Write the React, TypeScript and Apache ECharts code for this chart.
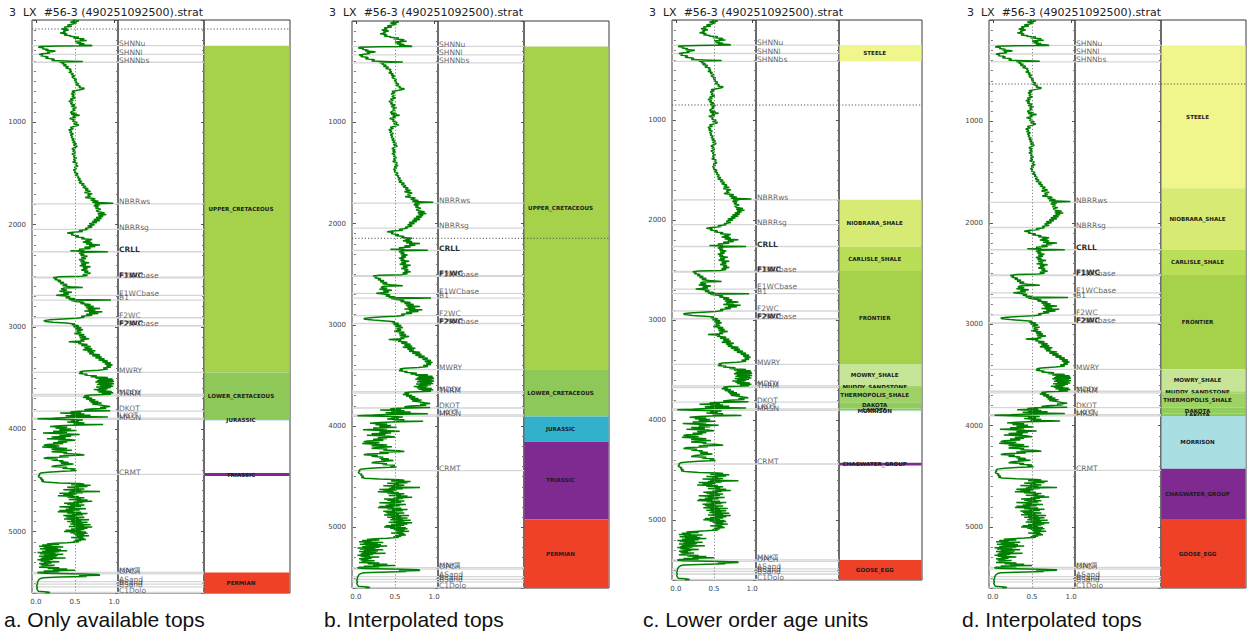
import React, { useEffect, useRef } from "react";
import * as echarts from "echarts";

// ---------------- DATA ----------------
const WELL_TITLE = "3\u00a0\u00a0LX\u00a0\u00a0#56-3 (490251092500).strat";
const CAPTIONS = ["a. Only available tops", "b. Interpolated tops", "c. Lower order age units", "d. Interpolated tops"];
const DEPTH_MIN = 0;
const DEPTH_MAX = 5600;
const DEPTH_STEP = 1000;
const LOG_MIN = -0.05;
const LOG_MAX = 1.05;
const LOG_TICKS = [0, 0.5, 1.0];
const LOG_MIDLINE = 0.5;
const CURSOR_DEPTHS = [88, 2146, 850, 631];

// [name, depth, emphasised]
const TOPS: [string, number, boolean][] = [
  ["SHNNu", 251, false], ["SHNNl", 335, false], ["SHNNbs", 413, false], ["NBRRws", 1798, false],
  ["NBRRsg", 2046, false], ["CRLL", 2265, true], ["F1WC", 2514, true], ["F1WCbase", 2521, false],
  ["E1WCbase", 2691, false], ["B1", 2737, false], ["F2WC", 2910, false], ["F2WC", 2986, true],
  ["F2WCbase", 2988, false], ["MWRY", 3444, false], ["MDDY", 3660, false], ["THRM", 3676, false],
  ["DKOT", 3822, false], ["LKOT", 3890, false], ["MRSN", 3903, false], ["CRMT", 4440, false],
  ["MNKT", 5398, false], ["OPCH", 5414, false], ["ASand", 5488, false], ["BSand", 5514, false],
  ["BSand", 5540, false], ["C1Dolo", 5595, false],
];

const STRAT_A: [string, number, number][] = [
  ["UPPER_CRETACEOUS", 251, 3444], ["LOWER_CRETACEOUS", 3444, 3905], ["JURASSIC", 3905, 3910],
  ["TRIASSIC", 4428, 4456], ["PERMIAN", 5400, 5600],
];
const STRAT_B: [string, number, number][] = [
  ["UPPER_CRETACEOUS", 251, 3440], ["LOWER_CRETACEOUS", 3440, 3905], ["JURASSIC", 3905, 4155],
  ["TRIASSIC", 4155, 4920], ["PERMIAN", 4920, 5600],
];
const STRAT_C: [string, number, number][] = [
  ["STEELE", 251, 413], ["NIOBRARA_SHALE", 1798, 2265], ["CARLISLE_SHALE", 2265, 2510],
  ["FRONTIER", 2510, 3440], ["MOWRY_SHALE", 3440, 3660], ["MUDDY_SANDSTONE", 3660, 3680],
  ["THERMOPOLIS_SHALE", 3680, 3822], ["DAKOTA", 3822, 3885], ["LAKOTA", 3885, 3905],
  ["MORRISON", 3905, 3908], ["CHAGWATER_GROUP", 4428, 4456], ["GOOSE_EGG", 5400, 5600],
];
const STRAT_D: [string, number, number][] = [
  ["STEELE", 251, 1660], ["NIOBRARA_SHALE", 1660, 2265], ["CARLISLE_SHALE", 2265, 2515],
  ["FRONTIER", 2515, 3444], ["MOWRY_SHALE", 3444, 3660], ["MUDDY_SANDSTONE", 3660, 3680],
  ["THERMOPOLIS_SHALE", 3680, 3822], ["DAKOTA", 3822, 3880], ["LAKOTA", 3880, 3905],
  ["MORRISON", 3905, 4425], ["CHAGWATER_GROUP", 4425, 4920], ["GOOSE_EGG", 4920, 5600],
];

const STRAT_COLORS: Record<string, string> = {
  UPPER_CRETACEOUS: "#a6d24b", LOWER_CRETACEOUS: "#8dc858", JURASSIC: "#32b1cc", TRIASSIC: "#7e2a91",
  PERMIAN: "#ee4128", STEELE: "#f0f68c", NIOBRARA_SHALE: "#d6ea74", CARLISLE_SHALE: "#b9df59",
  FRONTIER: "#a6d24b", MOWRY_SHALE: "#c6e596", MUDDY_SANDSTONE: "#a7d56c", THERMOPOLIS_SHALE: "#9fd264",
  DAKOTA: "#92cc5c", LAKOTA: "#8dc858", MORRISON: "#a9dee2", CHAGWATER_GROUP: "#7e2a91", GOOSE_EGG: "#ee4128",
};

// gamma-ray style log, [depth, value]
const LOG_UPPER: [number, number][] = [
  [0,0.47],[10,0.55],[20,0.44],[29,0.52],[40,0.47],[50,0.40],[60,0.46],[70,0.36],[78,0.40],[88,0.33],[98,0.42],[108,0.35],[118,0.38],[127,0.31],[137,0.40],[147,0.36],[155,0.45],[160,0.43],[168,0.55],[176,0.48],[184,0.62],[192,0.56],[200,0.65],[208,0.50],[216,0.58],[225,0.52],[232,0.62],[240,0.55],[246,0.70],[251,0.72],[255,0.30],[260,0.05],[266,0.03],[272,0.10],[280,0.08],[288,0.16],[296,0.12],[303,0.25],[308,0.22],[314,0.14],[322,0.18],[330,0.08],[336,0.04],[342,0.09],[350,0.06],[358,0.14],[365,0.16],[372,0.12],[380,0.22],[388,0.24],[396,0.20],[402,0.45],[406,0.60],[410,0.30],[418,0.36],[426,0.33],[437,0.39],[446,0.35],[456,0.42],[469,0.38],[480,0.45],[490,0.43],[502,0.46],[512,0.42],[524,0.48],[534,0.45],[546,0.50],[556,0.46],[567,0.48],[578,0.52],[589,0.49],[599,0.52],[610,0.50],[622,0.55],[634,0.51],[648,0.57],[660,0.55],[668,0.62],[675,0.61],[684,0.55],[697,0.46],[708,0.50],[720,0.45],[733,0.49],[746,0.46],[760,0.51],[772,0.44],[784,0.48],[795,0.42],[806,0.47],[818,0.44],[830,0.50],[844,0.45],[856,0.52],[868,0.47],[880,0.50],[893,0.46],[904,0.44],[914,0.52],[922,0.45],[932,0.56],[941,0.47],[952,0.51],[963,0.43],[975,0.49],[990,0.47],[1002,0.53],[1014,0.48],[1026,0.55],[1039,0.50],[1050,0.44],[1062,0.48],[1075,0.42],[1088,0.46],[1100,0.43],[1112,0.48],[1125,0.44],[1137,0.47],[1150,0.45],[1162,0.49],[1175,0.46],[1186,0.50],[1198,0.47],[1210,0.52],[1222,0.48],[1235,0.53],[1248,0.49],[1260,0.46],[1272,0.50],[1284,0.47],[1296,0.51],[1310,0.46],[1322,0.50],[1336,0.48],[1349,0.52],[1362,0.48],[1375,0.51],[1388,0.47],[1400,0.53],[1414,0.50],[1428,0.54],[1440,0.49],[1452,0.52],[1466,0.48],[1479,0.51],[1490,0.49],[1503,0.54],[1516,0.50],[1528,0.55],[1540,0.53],[1552,0.57],[1565,0.54],[1577,0.59],[1590,0.55],[1602,0.62],[1614,0.58],[1626,0.64],[1638,0.60],[1650,0.67],[1662,0.63],[1675,0.70],[1686,0.62],[1698,0.72],[1710,0.66],[1723,0.70],[1735,0.63],[1748,0.76],[1760,0.70],[1772,0.80],[1782,0.72],[1790,0.99],[1796,0.75],[1805,0.82],[1815,0.74],[1825,0.80],[1838,0.76],[1850,0.83],[1862,0.77],[1875,0.80],
];
const LOG_MIDDLE: [number, number][] = [
  [1885,0.88],[1893,0.79],[1902,0.90],[1910,0.80],[1920,0.86],[1930,0.77],[1939,0.84],[1950,0.74],[1960,0.82],[1970,0.72],[1980,0.78],[1990,0.68],[2000,0.75],[2012,0.66],[2024,0.72],[2037,0.63],[2048,0.66],[2058,0.55],[2066,0.60],[2074,0.47],[2082,0.40],[2090,0.48],[2100,0.45],[2110,0.55],[2118,0.50],[2128,0.62],[2138,0.58],[2146,0.72],[2151,0.63],[2160,0.70],[2170,0.60],[2180,0.72],[2190,0.64],[2198,0.82],[2205,0.68],[2214,0.76],[2222,0.62],[2232,0.70],[2240,0.55],[2248,0.62],[2255,0.44],[2260,0.60],[2265,0.92],[2270,0.62],[2280,0.55],[2290,0.62],[2300,0.57],[2310,0.66],[2320,0.58],[2330,0.64],[2342,0.55],[2352,0.62],[2362,0.57],[2372,0.68],[2382,0.58],[2392,0.64],[2402,0.56],[2412,0.70],[2422,0.60],[2432,0.66],[2444,0.58],[2455,0.67],[2466,0.62],[2476,0.70],[2486,0.60],[2496,0.66],[2505,0.58],[2510,0.30],[2518,0.22],[2526,0.27],[2536,0.24],[2546,0.32],[2556,0.28],[2566,0.36],[2576,0.31],[2586,0.40],[2596,0.34],[2606,0.44],[2614,0.60],[2620,0.36],[2630,0.32],[2640,0.40],[2650,0.30],[2660,0.46],[2670,0.35],[2680,0.42],[2690,0.26],[2698,0.38],[2706,0.44],[2715,0.38],[2725,0.50],[2732,0.42],[2737,0.96],[2742,0.45],[2750,0.52],[2760,0.62],[2770,0.57],[2780,0.70],[2790,0.62],[2800,0.74],[2810,0.64],[2820,0.82],[2828,0.66],[2836,0.76],[2844,0.62],[2852,0.85],[2860,0.68],[2868,0.80],[2876,0.64],[2886,0.72],[2896,0.58],[2906,0.62],[2915,0.52],[2922,0.35],[2930,0.18],[2938,0.10],[2946,0.12],[2954,0.22],[2962,0.38],[2970,0.50],[2978,0.46],[2988,0.55],[2998,0.48],[3008,0.58],[3018,0.50],[3028,0.60],[3040,0.52],[3052,0.58],[3064,0.49],[3075,0.62],[3086,0.55],[3096,0.64],[3106,0.56],[3116,0.68],[3126,0.57],[3136,0.62],[3145,0.42],[3152,0.58],[3162,0.54],[3172,0.66],[3182,0.58],[3192,0.70],[3202,0.62],[3212,0.72],[3222,0.60],[3232,0.76],[3242,0.66],[3252,0.74],[3262,0.68],[3272,0.82],[3282,0.72],[3292,0.84],[3302,0.76],[3312,0.88],[3322,0.80],[3332,0.92],[3342,0.85],[3352,0.96],[3362,0.88],[3372,0.98],[3382,0.90],[3392,0.96],[3402,0.86],[3412,0.92],[3422,0.80],[3430,0.62],[3438,0.56],[3446,0.60],[3454,0.55],[3462,0.66],[3470,0.62],[3478,0.78],[3486,0.70],[3494,0.92],[3500,0.76],[3508,0.98],[3514,0.80],[3520,0.99],[3526,0.78],[3532,1.0],[3538,0.76],[3544,0.98],[3550,0.80],[3556,1.0],[3562,0.78],[3568,0.97],[3574,0.82],[3580,0.99],[3586,0.77],[3592,0.96],[3598,0.80],[3604,0.92],[3610,0.74],[3616,0.90],[3622,0.78],[3630,0.97],[3636,0.80],[3642,0.99],[3650,0.84],[3658,0.96],[3664,0.70],[3672,0.62],[3680,0.68],[3688,0.60],[3696,0.72],[3704,0.64],[3712,0.76],[3720,0.68],[3728,0.80],[3736,0.70],[3744,0.84],[3752,0.72],
];
const LOG_LOWER: [number, number][] = [
  [3760,0.80],[3770,0.88],[3778,0.95],[3786,0.82],[3794,0.90],[3802,0.70],[3810,0.62],[3818,0.95],[3824,0.55],[3830,0.44],[3836,0.58],[3842,0.31],[3850,0.62],[3856,0.45],[3862,0.70],[3868,0.38],[3874,0.55],[3880,0.92],[3886,0.40],[3892,0.22],[3898,0.02],[3904,0.35],[3910,0.60],[3916,0.45],[3922,0.55],[3930,0.40],[3938,0.62],[3946,0.48],[3954,0.86],[3960,0.45],[3966,0.30],[3972,0.18],[3980,0.40],[3988,0.25],[3996,0.45],[4004,0.30],[4012,0.52],[4020,0.22],[4028,0.40],[4036,0.09],[4044,0.35],[4052,0.56],[4060,0.30],[4068,0.45],[4076,0.20],[4084,0.38],[4092,0.14],[4100,0.42],[4108,0.50],[4116,0.28],[4124,0.40],[4132,0.22],[4140,0.35],[4148,0.15],[4156,0.10],[4164,0.30],[4172,0.08],[4180,0.25],[4188,0.40],[4196,0.20],[4204,0.46],[4212,0.28],[4220,0.20],[4228,0.40],[4236,0.35],[4244,0.55],[4252,0.62],[4260,0.30],[4268,0.42],[4276,0.15],[4284,0.10],[4292,0.28],[4300,0.20],[4308,0.35],[4316,0.30],[4324,0.42],[4332,0.32],[4340,0.48],[4348,0.36],[4356,0.25],[4364,0.20],[4372,0.40],[4380,0.34],[4388,0.50],[4396,0.44],[4404,0.52],[4412,0.30],[4420,0.15],[4428,0.06],[4438,0.04],[4448,0.05],[4458,0.03],[4468,0.04],[4478,0.08],[4488,0.06],[4498,0.10],[4508,0.07],[4516,0.12],[4524,0.30],[4530,0.56],[4536,0.62],[4542,0.45],[4548,0.70],[4554,0.50],[4560,0.66],[4566,0.40],[4572,0.55],[4578,0.48],[4584,0.62],[4590,0.35],[4596,0.58],[4602,0.45],[4608,0.82],[4614,0.42],[4620,0.60],[4626,0.30],[4632,0.52],[4638,0.35],[4644,0.48],[4650,0.28],[4656,0.55],[4662,0.40],[4668,0.62],[4674,0.50],[4680,0.58],[4686,0.42],[4692,0.66],[4698,0.52],[4704,0.72],[4710,0.48],[4716,0.60],[4722,0.36],[4728,0.55],[4734,0.40],[4740,0.62],[4746,0.44],[4752,0.58],[4758,0.30],[4764,0.50],[4770,0.42],[4776,0.64],[4782,0.38],[4788,0.56],[4794,0.30],[4800,0.48],[4806,0.28],[4812,0.58],[4818,0.40],[4824,0.66],[4830,0.46],[4836,0.60],[4842,0.35],[4848,0.52],[4854,0.38],[4860,0.62],[4866,0.40],[4872,0.55],[4878,0.36],[4884,0.68],[4890,0.45],[4896,0.58],[4902,0.40],[4908,0.66],[4914,0.46],[4920,0.60],[4926,0.44],[4932,0.70],[4938,0.48],[4944,0.62],[4950,0.42],[4956,0.72],[4962,0.50],[4968,0.66],[4974,0.45],[4980,0.62],[4986,0.38],[4992,0.58],[4998,0.36],[5004,0.64],[5010,0.44],[5016,0.66],[5022,0.48],[5028,0.62],[5034,0.50],[5040,0.68],[5046,0.52],[5052,0.60],[5058,0.45],[5064,0.62],[5070,0.55],[5076,0.64],[5082,0.50],[5088,0.58],[5094,0.48],[5100,0.55],[5108,0.40],[5114,0.25],[5120,0.14],[5126,0.30],[5132,0.08],[5138,0.20],[5144,0.04],[5150,0.35],[5156,0.10],[5162,0.28],[5168,0.05],[5174,0.32],[5180,0.12],[5186,0.40],[5192,0.08],[5198,0.30],[5204,0.02],[5210,0.25],[5216,0.05],[5222,0.35],[5228,0.10],[5234,0.28],[5240,0.04],[5246,0.26],[5252,0.08],[5258,0.38],[5264,0.06],[5270,0.22],[5276,0.02],[5282,0.18],[5288,0.06],[5294,0.30],[5300,0.10],[5306,0.20],[5312,0.04],[5318,0.16],[5324,0.06],[5330,0.24],[5336,0.08],[5342,0.12],[5348,0.04],[5354,0.30],[5360,0.15],[5366,0.40],[5372,0.22],[5378,0.50],[5384,0.10],[5390,0.30],[5396,0.04],[5402,0.02],[5408,0.12],[5414,0.60],[5420,0.80],[5426,0.82],[5432,0.55],[5438,0.65],[5444,0.30],[5450,0.10],[5458,0.06],[5468,0.04],[5480,0.03],[5495,0.02],[5510,0.02],[5525,0.01],[5540,0.02],[5555,0.01],[5570,0.02],[5582,0.03],[5590,0.15],[5596,0.18],[5600,0.12],
];

// ---------------- LAYOUT ----------------
const PANELS = [
  { x0: 32, widths: [86, 86, 86], top: 20, height: 573, titleX: 9, capX: 4, strat: STRAT_A },
  { x0: 352, widths: [86, 86, 85], top: 21, height: 567, titleX: 329, capX: 324, strat: STRAT_B },
  { x0: 672, widths: [84, 83, 83], top: 20, height: 560, titleX: 649, capX: 643, strat: STRAT_C },
  { x0: 989, widths: [86, 86, 85], top: 20, height: 568, titleX: 967, capX: 962, strat: STRAT_D },
];

const AXIS_FONT = "DejaVu Sans";
const LOG_COLOR = "#008000";
const TOP_LINE_COLOR = "#d6d6d6";

function buildOption() {
  const grids: any[] = [];
  const xAxes: any[] = [];
  const yAxes: any[] = [];
  const series: any[] = [];
  const graphics: any[] = [];
  const logData = [...LOG_UPPER, ...LOG_MIDDLE, ...LOG_LOWER].map(([d, v]) => [v, d]);

  PANELS.forEach((p, pi) => {
    let left = p.x0;
    ["log", "tops", "strat"].forEach((kind, ti) => {
      const gi = grids.length;
      grids.push({
        left, top: p.top, width: p.widths[ti], height: p.height,
        show: true, borderColor: "#3a3a3a", borderWidth: 1, backgroundColor: "transparent",
      });
      left += p.widths[ti];

      if (kind === "log") {
        xAxes.push({
          type: "value", gridIndex: gi, min: LOG_MIN, max: LOG_MAX, position: "bottom",
          axisLine: { show: false },
          axisTick: { show: true, length: 3, customValues: LOG_TICKS, lineStyle: { color: "#444" } },
          axisLabel: {
            show: true, customValues: LOG_TICKS, formatter: (v: number) => v.toFixed(1),
            fontSize: 7, color: "#444", margin: 5, fontFamily: AXIS_FONT,
          },
          splitLine: { show: false },
        });
      } else {
        xAxes.push({ type: "value", gridIndex: gi, min: 0, max: 1, show: false });
      }
      yAxes.push({
        type: "value", gridIndex: gi, inverse: true, min: DEPTH_MIN, max: DEPTH_MAX, interval: DEPTH_STEP,
        axisLine: { show: false },
        axisTick: { show: true, length: 3, lineStyle: { color: "#555" } },
        minorTick: { show: true, splitNumber: 10, length: 2, lineStyle: { color: "#777" } },
        axisLabel: {
          show: kind === "log", fontSize: 7, color: "#444", margin: 6, fontFamily: AXIS_FONT,
          formatter: (v: number) => (v > 0 && v % DEPTH_STEP === 0 ? String(v) : ""),
        },
        splitLine: { show: false },
        minorSplitLine: { show: false },
      });

      // cursor dotted line
      series.push({
        type: "custom", xAxisIndex: gi, yAxisIndex: gi, z: 10, silent: true,
        encode: { x: 0, y: 1 },
        data: [[0, CURSOR_DEPTHS[pi]]],
        renderItem: (params: any, api: any) => {
          const cs = params.coordSys;
          const y = api.coord([0, api.value(1)])[1];
          return {
            type: "line",
            shape: { x1: cs.x, y1: y, x2: cs.x + cs.width, y2: y },
            style: { stroke: "#555", lineWidth: 1, lineDash: [1.2, 2] },
          };
        },
      });

      if (kind === "log") {
        series.push({
          type: "custom", xAxisIndex: gi, yAxisIndex: gi, z: 1, silent: true,
          encode: { x: 0, y: 1 },
          data: TOPS.map((t) => [0, t[1]]),
          renderItem: (params: any, api: any) => {
            const cs = params.coordSys;
            const y = api.coord([0, api.value(1)])[1];
            return {
              type: "line",
              shape: { x1: cs.x, y1: y, x2: cs.x + cs.width, y2: y },
              style: { stroke: TOP_LINE_COLOR, lineWidth: 1.3 },
            };
          },
        });
        series.push({
          type: "line", xAxisIndex: gi, yAxisIndex: gi, z: 3, silent: true,
          data: logData, showSymbol: false, symbol: "none", clip: true,
          lineStyle: { color: LOG_COLOR, width: 1.5 },
          markLine: {
            silent: true, symbol: ["none", "none"], label: { show: false },
            lineStyle: { color: "#888", type: [1.2, 2], width: 1 },
            data: [{ xAxis: LOG_MIDLINE }],
          },
        });
      } else if (kind === "tops") {
        series.push({
          type: "custom", xAxisIndex: gi, yAxisIndex: gi, z: 2, silent: true,
          encode: { x: 0, y: 1 },
          data: TOPS.map((t) => [0, t[1]]),
          renderItem: (params: any, api: any) => {
            const cs = params.coordSys;
            const y = api.coord([0, api.value(1)])[1];
            const top = TOPS[params.dataIndex];
            return {
              type: "group",
              children: [
                {
                  type: "line",
                  shape: { x1: cs.x, y1: y, x2: cs.x + cs.width, y2: y },
                  style: { stroke: TOP_LINE_COLOR, lineWidth: 1.3 },
                },
                {
                  type: "text", x: cs.x + 1, y: y - 2.2,
                  style: {
                    text: top[0], fill: top[2] ? "rgba(20,20,20,0.9)" : "rgba(50,50,50,0.75)",
                    fontSize: 7.5, fontWeight: top[2] ? "bold" : "normal",
                    fontFamily: AXIS_FONT, align: "left", verticalAlign: "middle",
                  },
                },
              ],
            };
          },
        });
      } else {
        const strat = p.strat;
        series.push({
          type: "custom", xAxisIndex: gi, yAxisIndex: gi, z: 2, silent: true,
          encode: { x: 0, y: [1, 2] },
          data: strat.map((s) => [0, s[1], s[2]]),
          renderItem: (params: any, api: any) => {
            const cs = params.coordSys;
            const y1 = api.coord([0, api.value(1)])[1];
            const y2 = api.coord([0, api.value(2)])[1];
            const name = strat[params.dataIndex][0];
            return {
              type: "group",
              children: [
                {
                  type: "rect",
                  shape: { x: cs.x + 0.5, y: y1, width: cs.width - 1, height: Math.max(y2 - y1, 0.8) },
                  style: { fill: STRAT_COLORS[name] },
                },
                {
                  type: "text", x: cs.x + cs.width * 0.43, y: (y1 + y2) / 2,
                  style: {
                    text: name, fill: "#1c1c1c", fontSize: 5.6, fontWeight: "bold",
                    fontFamily: AXIS_FONT, align: "center", verticalAlign: "middle",
                  },
                },
              ],
            };
          },
        });
      }
    });

    graphics.push({
      type: "text", x: p.titleX, y: 12,
      style: { text: WELL_TITLE, fill: "#222", fontSize: 11, fontFamily: AXIS_FONT, align: "left", verticalAlign: "middle" },
    });
    graphics.push({
      type: "text", x: p.capX, y: 619,
      style: { text: CAPTIONS[pi], fill: "#111", fontSize: 21, fontFamily: "Liberation Sans", align: "left", verticalAlign: "middle" },
    });
  });

  return {
    animation: false,
    backgroundColor: "#ffffff",
    grid: grids,
    xAxis: xAxes,
    yAxis: yAxes,
    series,
    graphic: graphics,
  };
}

export default function App() {
  const ref = useRef<HTMLDivElement>(null);
  useEffect(() => {
    if (!ref.current) return;
    const chart = echarts.init(ref.current, null, { renderer: "svg" });
    chart.setOption(buildOption() as any);
    return () => chart.dispose();
  }, []);
  return (
    <div
      ref={ref}
      style={{ position: "fixed", left: 0, top: 0, width: 1247, height: 633, background: "#fff" }}
    />
  );
}
